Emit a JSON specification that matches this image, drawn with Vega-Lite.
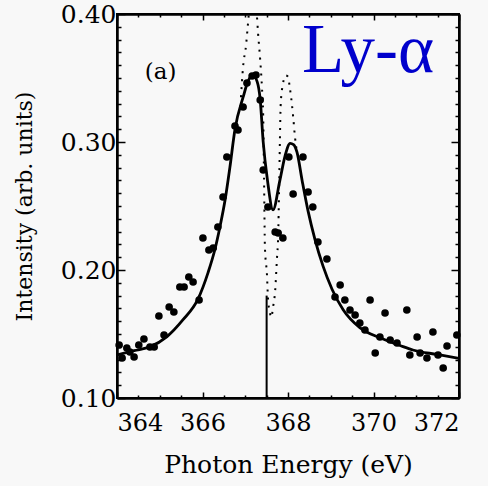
{
  "$schema": "https://vega.github.io/schema/vega-lite/v6.json",
  "width": 342,
  "height": 384,
  "autosize": "none",
  "padding": {"left": 117, "top": 14, "right": 29, "bottom": 88},
  "background": "#f8f8f8",
  "config": {
    "view": {"stroke": "black", "strokeWidth": 2},
    "axis": {"domainColor": "black", "domainWidth": 2, "tickColor": "black", "tickWidth": 1.5, "grid": false, "labelFont": "DejaVu Serif", "titleFont": "DejaVu Serif", "labelColor": "black", "titleColor": "black", "titleFontWeight": "normal"}
  },
  "datasets": {
    "fit": [
      {"x": 364.00, "y": 0.1336}, {"x": 364.40, "y": 0.137}, {"x": 364.77, "y": 0.140}, {"x": 365.17, "y": 0.148},
      {"x": 365.54, "y": 0.161}, {"x": 365.89, "y": 0.177}, {"x": 366.13, "y": 0.198}, {"x": 366.29, "y": 0.216},
      {"x": 366.41, "y": 0.234}, {"x": 366.53, "y": 0.255}, {"x": 366.64, "y": 0.280}, {"x": 366.76, "y": 0.310},
      {"x": 366.95, "y": 0.335}, {"x": 367.06, "y": 0.347}, {"x": 367.18, "y": 0.352}, {"x": 367.28, "y": 0.347},
      {"x": 367.35, "y": 0.333}, {"x": 367.42, "y": 0.300}, {"x": 367.52, "y": 0.270}, {"x": 367.65, "y": 0.247},
      {"x": 367.81, "y": 0.270}, {"x": 367.93, "y": 0.289}, {"x": 368.05, "y": 0.299}, {"x": 368.13, "y": 0.298},
      {"x": 368.21, "y": 0.292}, {"x": 368.33, "y": 0.270}, {"x": 368.47, "y": 0.246}, {"x": 368.63, "y": 0.224},
      {"x": 368.82, "y": 0.203}, {"x": 369.03, "y": 0.185}, {"x": 369.29, "y": 0.169}, {"x": 369.68, "y": 0.155},
      {"x": 370.15, "y": 0.147}, {"x": 370.62, "y": 0.141}, {"x": 370.92, "y": 0.1375}, {"x": 371.49, "y": 0.134},
      {"x": 372.00, "y": 0.131}
    ],
    "theory": [
      {"x": 366.90, "y": 0.335}, {"x": 366.95, "y": 0.359}, {"x": 367.02, "y": 0.376}, {"x": 367.06, "y": 0.391},
      {"x": 367.11, "y": 0.410}, {"x": 367.17, "y": 0.425}, {"x": 367.22, "y": 0.415}, {"x": 367.27, "y": 0.400},
      {"x": 367.30, "y": 0.385}, {"x": 367.35, "y": 0.364}, {"x": 367.39, "y": 0.343}, {"x": 367.42, "y": 0.320},
      {"x": 367.44, "y": 0.270}, {"x": 367.46, "y": 0.218}, {"x": 367.51, "y": 0.195}, {"x": 367.53, "y": 0.179},
      {"x": 367.58, "y": 0.166}, {"x": 367.61, "y": 0.163}, {"x": 367.65, "y": 0.171}, {"x": 367.70, "y": 0.184},
      {"x": 367.74, "y": 0.208}, {"x": 367.77, "y": 0.227}, {"x": 367.79, "y": 0.260}, {"x": 367.81, "y": 0.300},
      {"x": 367.83, "y": 0.330}, {"x": 367.88, "y": 0.345}, {"x": 367.95, "y": 0.352}, {"x": 368.00, "y": 0.351},
      {"x": 368.04, "y": 0.343}, {"x": 368.09, "y": 0.330}, {"x": 368.12, "y": 0.320}, {"x": 368.16, "y": 0.305},
      {"x": 368.21, "y": 0.292}
    ],
    "obs": [
      {"x": 364.05, "y": 0.1414}, {"x": 364.12, "y": 0.1313}, {"x": 364.23, "y": 0.1391}, {"x": 364.30, "y": 0.1359},
      {"x": 364.40, "y": 0.1320}, {"x": 364.51, "y": 0.1414}, {"x": 364.63, "y": 0.1461}, {"x": 364.77, "y": 0.1398},
      {"x": 364.87, "y": 0.1398}, {"x": 365.10, "y": 0.1492}, {"x": 364.98, "y": 0.1641}, {"x": 365.22, "y": 0.1711},
      {"x": 365.33, "y": 0.1672}, {"x": 365.47, "y": 0.1867}, {"x": 365.57, "y": 0.1867}, {"x": 365.68, "y": 0.1945},
      {"x": 365.78, "y": 0.1906}, {"x": 365.92, "y": 0.1766}, {"x": 366.01, "y": 0.2250}, {"x": 366.15, "y": 0.2156},
      {"x": 366.25, "y": 0.2172}, {"x": 366.36, "y": 0.2336}, {"x": 366.48, "y": 0.2570}, {"x": 366.57, "y": 0.2883},
      {"x": 366.76, "y": 0.3125}, {"x": 366.83, "y": 0.3094}, {"x": 366.95, "y": 0.3273}, {"x": 367.04, "y": 0.3461},
      {"x": 367.16, "y": 0.3516}, {"x": 367.25, "y": 0.3523}, {"x": 367.35, "y": 0.3328}, {"x": 367.42, "y": 0.2781},
      {"x": 367.53, "y": 0.2492}, {"x": 367.70, "y": 0.2297}, {"x": 367.77, "y": 0.2289}, {"x": 367.88, "y": 0.2250},
      {"x": 368.02, "y": 0.2883}, {"x": 368.35, "y": 0.2883}, {"x": 368.12, "y": 0.2594}, {"x": 368.47, "y": 0.2609},
      {"x": 368.58, "y": 0.2492}, {"x": 368.70, "y": 0.2219}, {"x": 368.91, "y": 0.2086}, {"x": 369.22, "y": 0.1883},
      {"x": 369.10, "y": 0.1789}, {"x": 369.33, "y": 0.1766}, {"x": 369.45, "y": 0.1688}, {"x": 369.57, "y": 0.1648},
      {"x": 369.92, "y": 0.1766}, {"x": 370.27, "y": 0.1664}, {"x": 370.78, "y": 0.1688}, {"x": 369.68, "y": 0.1586},
      {"x": 369.80, "y": 0.1531}, {"x": 370.15, "y": 0.1477}, {"x": 370.39, "y": 0.1453}, {"x": 370.55, "y": 0.1430},
      {"x": 370.04, "y": 0.1352}, {"x": 370.85, "y": 0.1336}, {"x": 371.02, "y": 0.1477}, {"x": 371.09, "y": 0.1352},
      {"x": 371.25, "y": 0.1313}, {"x": 371.39, "y": 0.1516}, {"x": 371.51, "y": 0.1336}, {"x": 371.63, "y": 0.1234},
      {"x": 371.72, "y": 0.1406}, {"x": 371.95, "y": 0.1492}
    ]
  },
  "resolve": {"axis": {"x": "independent", "y": "independent"}},
  "layer": [
    {
      "data": {"name": "fit"},
      "mark": {"type": "line", "color": "black", "strokeWidth": 2.8, "interpolate": "monotone", "clip": true},
      "encoding": {
        "x": {"field": "x", "type": "quantitative", "scale": {"domain": [364, 372], "nice": false, "zero": false},
              "axis": {"orient": "bottom", "values": [364, 366, 368, 370, 372], "format": "d", "tickSize": -6, "labelPadding": 19, "labelFontSize": 24, "title": "Photon Energy (eV)", "titleFontSize": 25, "titlePadding": 17}},
        "y": {"field": "y", "type": "quantitative", "scale": {"domain": [0.1, 0.4], "nice": false, "zero": false},
              "axis": {"orient": "left", "values": [0.1, 0.2, 0.3, 0.4], "format": ".2f", "tickSize": -8, "labelPadding": 9, "labelFontSize": 25, "title": "Intensity (arb. units)", "titleFontSize": 22, "titlePadding": 24}}
      }
    },
    {
      "data": {"name": "theory"},
      "mark": {"type": "line", "color": "black", "strokeWidth": 2, "strokeDash": [2, 6], "interpolate": "monotone", "clip": true},
      "encoding": {
        "x": {"field": "x", "type": "quantitative", "axis": {"orient": "top", "values": [364, 366, 368, 370, 372], "tickSize": -6, "labels": false, "title": null}},
        "y": {"field": "y", "type": "quantitative", "axis": {"orient": "right", "values": [0.1, 0.2, 0.3, 0.4], "tickSize": -8, "labels": false, "title": null}}
      }
    },
    {
      "data": {"name": "obs"},
      "mark": {"type": "point", "filled": true, "color": "black", "size": 58, "opacity": 1},
      "encoding": {
        "x": {"field": "x", "type": "quantitative", "axis": {"orient": "bottom", "values": [364.5, 365, 365.5, 366.5, 367, 367.5, 368.5, 369, 369.5, 370.5, 371, 371.5], "tickSize": -3, "labels": false, "title": null}},
        "y": {"field": "y", "type": "quantitative", "axis": {"orient": "left", "values": [0.11, 0.12, 0.13, 0.14, 0.15, 0.16, 0.17, 0.18, 0.19, 0.21, 0.22, 0.23, 0.24, 0.25, 0.26, 0.27, 0.28, 0.29, 0.31, 0.32, 0.33, 0.34, 0.35, 0.36, 0.37, 0.38, 0.39], "tickSize": -4, "labels": false, "title": null}}
      }
    },
    {
      "data": {"values": [{"x": 367.5, "y": 0.10, "y2": 0.18}]},
      "mark": {"type": "rule", "color": "black", "strokeWidth": 2},
      "encoding": {
        "x": {"field": "x", "type": "quantitative", "axis": {"orient": "top", "values": [364.5, 365, 365.5, 366.5, 367, 367.5, 368.5, 369, 369.5, 370.5, 371, 371.5], "tickSize": -3, "labels": false, "title": null}},
        "y": {"field": "y", "type": "quantitative", "axis": {"orient": "right", "values": [0.11, 0.12, 0.13, 0.14, 0.15, 0.16, 0.17, 0.18, 0.19, 0.21, 0.22, 0.23, 0.24, 0.25, 0.26, 0.27, 0.28, 0.29, 0.31, 0.32, 0.33, 0.34, 0.35, 0.36, 0.37, 0.38, 0.39], "tickSize": -4, "labels": false, "title": null}},
        "y2": {"field": "y2"}
      }
    },
    {
      "data": {"values": [{"x": 365.02, "y": 0.3547, "label": "(a)"}]},
      "mark": {"type": "text", "font": "DejaVu Serif", "fontSize": 23, "align": "center", "baseline": "middle", "color": "black"},
      "encoding": {
        "x": {"field": "x", "type": "quantitative", "axis": null},
        "y": {"field": "y", "type": "quantitative", "axis": null},
        "text": {"field": "label"}
      }
    },
    {
      "data": {"values": [{"x": 368.33, "y": 0.3547, "label": "Ly-α"}]},
      "mark": {"type": "text", "font": "Liberation Serif", "fontSize": 69, "align": "left", "baseline": "alphabetic", "color": "#0000cc"},
      "encoding": {
        "x": {"field": "x", "type": "quantitative", "axis": null},
        "y": {"field": "y", "type": "quantitative", "axis": null},
        "text": {"field": "label"}
      }
    }
  ]
}
